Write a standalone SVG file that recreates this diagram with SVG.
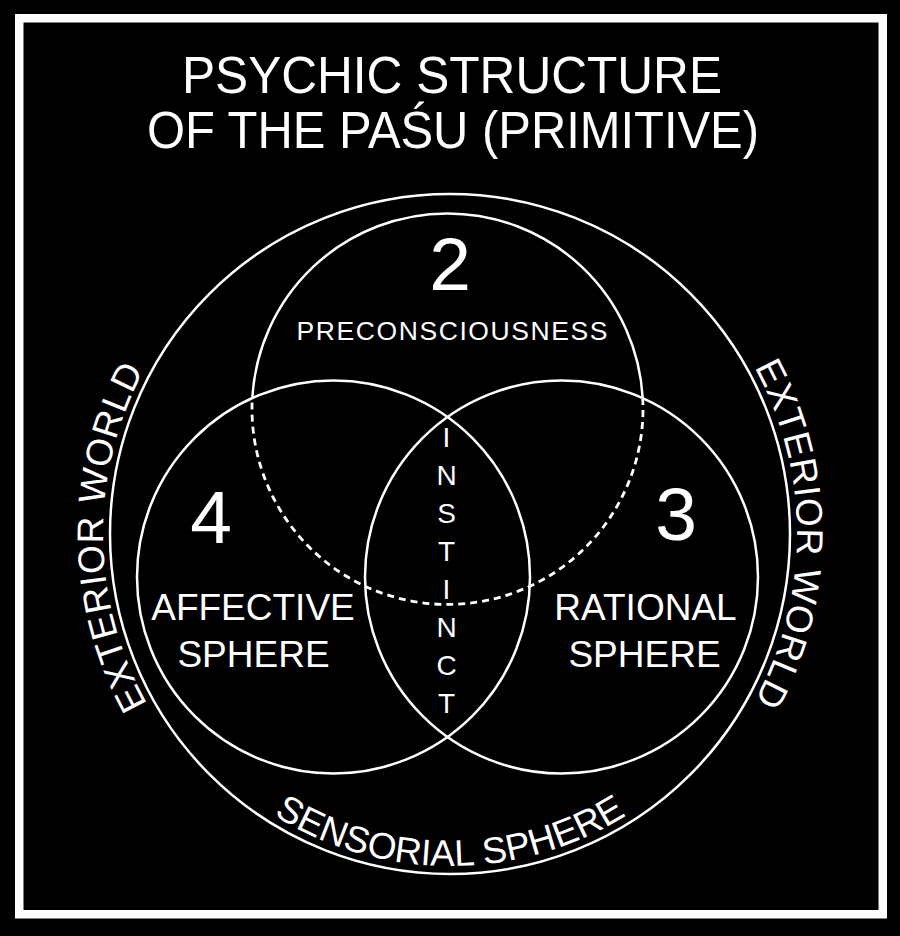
<svg xmlns="http://www.w3.org/2000/svg" width="900" height="936" viewBox="0 0 900 936">
<style>
.ln{fill:none;stroke:#fff;stroke-width:2.5}
.dash{fill:none;stroke:#fff;stroke-width:2.8;stroke-dasharray:7 5}
text{fill:#fff;font-family:"Liberation Sans",Arial,sans-serif}
.num{font-size:75px;text-anchor:middle}
.lab{font-size:37px;text-anchor:middle}
.arc{font-size:37px}
.v{font-size:28px;text-anchor:middle}
</style>
<defs>
<path id="pL" d="M 276.5 834.5 A 347 347 0 0 1 276.5 233.5"/>
<path id="pR" d="M 623.5 233.5 A 347 347 0 0 1 623.5 834.5"/>
<path id="pB" d="M 162.5 700 A 332 332 0 0 0 737.5 700"/>
</defs>
<rect x="0" y="0" width="900" height="936" fill="#000"/>
<rect x="19.25" y="18.25" width="863.5" height="896" fill="none" stroke="#fff" stroke-width="8.5"/>
<g id="title">
<text x="452" y="93" font-size="51" text-anchor="middle" textLength="540" lengthAdjust="spacingAndGlyphs">PSYCHIC STRUCTURE</text>
<text x="453" y="148" font-size="51" text-anchor="middle" textLength="612" lengthAdjust="spacingAndGlyphs">OF THE PAŚU (PRIMITIVE)</text>
</g>
<g id="connectors">
<circle class="ln" cx="450" cy="534" r="340"/>
</g>
<g id="sensorial">
<text class="arc"><textPath href="#pB" startOffset="50%" text-anchor="middle" textLength="372" lengthAdjust="spacing">SENSORIAL SPHERE</textPath></text>
</g>
<g id="exterior-left">
<text class="arc"><textPath href="#pL" startOffset="49.5%" text-anchor="middle" textLength="348" lengthAdjust="spacing">EXTERIOR WORLD</textPath></text>
</g>
<g id="exterior-right">
<text class="arc"><textPath href="#pR" startOffset="50%" text-anchor="middle" textLength="348" lengthAdjust="spacing">EXTERIOR WORLD</textPath></text>
</g>
<g id="node2">
<path class="ln" d="M 252.3 398.1 A 195.5 195.5 0 0 1 642.7 398.1"/>
<path class="dash" d="M 642.7 398.1 A 195.5 195.5 0 1 1 252.3 398.1"/>
<text class="num" x="450" y="290">2</text>
<text x="452" y="340" font-size="26.5" text-anchor="middle" textLength="311" lengthAdjust="spacing">PRECONSCIOUSNESS</text>
</g>
<g id="node4">
<circle class="ln" cx="333.5" cy="577" r="196.5"/>
<text class="num" x="211" y="543">4</text>
<text class="lab" x="253" y="620">AFFECTIVE</text>
<text class="lab" x="253.5" y="667">SPHERE</text>
</g>
<g id="node3">
<circle class="ln" cx="561.5" cy="577" r="196.5"/>
<text class="num" x="676" y="540">3</text>
<text class="lab" x="645.5" y="620">RATIONAL</text>
<text class="lab" x="644.5" y="667">SPHERE</text>
</g>
<g id="instinct">
<text class="v" x="446.5" y="447">I</text>
<text class="v" x="446.5" y="485">N</text>
<text class="v" x="446.5" y="523">S</text>
<text class="v" x="446.5" y="561">T</text>
<text class="v" x="446.5" y="599">I</text>
<text class="v" x="446.5" y="637">N</text>
<text class="v" x="446.5" y="675">C</text>
<text class="v" x="446.5" y="713">T</text>
</g>
</svg>
